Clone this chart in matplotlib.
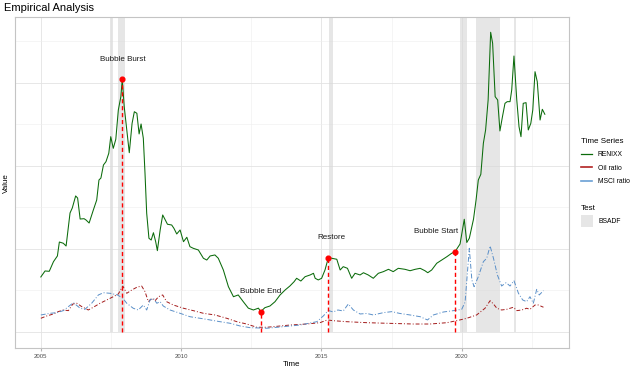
import matplotlib
matplotlib.use("Agg")
import matplotlib.pyplot as plt
from matplotlib.lines import Line2D
from matplotlib.patches import Patch

plt.rcParams['font.family'] = ['Liberation Sans', 'DejaVu Sans']

# RENIXX (time in decimal years)
renixx_t = [2005.01, 2005.16, 2005.31, 2005.46, 2005.60, 2005.67, 2005.81, 2005.91, 2006.05, 2006.13,
            2006.25, 2006.32, 2006.41, 2006.55, 2006.62, 2006.73, 2006.88, 2007.00, 2007.08, 2007.15,
            2007.24, 2007.33, 2007.43, 2007.50, 2007.59, 2007.68, 2007.77, 2007.86, 2007.91, 2007.98,
            2008.07, 2008.16, 2008.26, 2008.34, 2008.43, 2008.51, 2008.58, 2008.66, 2008.72, 2008.78,
            2008.86, 2008.94, 2009.02, 2009.10, 2009.16, 2009.26, 2009.35, 2009.43, 2009.52, 2009.67,
            2009.75, 2009.85, 2009.97, 2010.09, 2010.21, 2010.32, 2010.44, 2010.62, 2010.80, 2010.92,
            2011.04, 2011.21, 2011.33, 2011.51, 2011.69, 2011.87, 2012.04, 2012.22, 2012.40, 2012.58,
            2012.76, 2012.84, 2012.99, 2013.17, 2013.35, 2013.53, 2013.71, 2013.88, 2014.03, 2014.12,
            2014.27, 2014.42, 2014.60, 2014.72, 2014.78, 2014.89, 2015.01, 2015.13, 2015.25, 2015.37,
            2015.55, 2015.67, 2015.78, 2015.93, 2016.08, 2016.20, 2016.38, 2016.50, 2016.67, 2016.85,
            2017.03, 2017.21, 2017.39, 2017.56, 2017.74, 2017.98, 2018.16, 2018.34, 2018.52, 2018.69,
            2018.79, 2018.93, 2019.11, 2019.29, 2019.47, 2019.64, 2019.76, 2019.94, 2020.09, 2020.18,
            2020.27, 2020.42, 2020.51, 2020.59, 2020.68, 2020.77, 2020.85, 2020.94, 2021.03, 2021.10,
            2021.19, 2021.28, 2021.36, 2021.45, 2021.54, 2021.62, 2021.72, 2021.78, 2021.86, 2021.96,
            2022.04, 2022.11, 2022.19, 2022.29, 2022.37, 2022.46, 2022.53, 2022.61, 2022.69, 2022.79,
            2022.87, 2022.96]
renixx_v = [0.663, 0.735, 0.731, 0.847, 0.916, 1.084, 1.069, 1.036, 1.434, 1.494,
            1.639, 1.614, 1.361, 1.365, 1.349, 1.313, 1.470, 1.590, 1.831, 1.855,
            2.012, 2.052, 2.153, 2.353, 2.213, 2.322, 2.675, 2.835, 3.045, 2.714,
            2.434, 2.160, 2.514, 2.654, 2.635, 2.386, 2.506, 2.334, 1.912, 1.430,
            1.129, 1.108, 1.196, 1.088, 0.980, 1.229, 1.410, 1.358, 1.298, 1.289,
            1.249, 1.181, 1.229, 1.088, 1.141, 1.028, 1.008, 0.988, 0.888, 0.867,
            0.916, 0.928, 0.888, 0.747, 0.546, 0.425, 0.446, 0.365, 0.287, 0.265,
            0.287, 0.245, 0.293, 0.313, 0.365, 0.446, 0.506, 0.554, 0.606, 0.647,
            0.614, 0.666, 0.687, 0.707, 0.647, 0.627, 0.647, 0.747, 0.895, 0.888,
            0.876, 0.747, 0.787, 0.767, 0.647, 0.707, 0.687, 0.714, 0.687, 0.647,
            0.707, 0.727, 0.755, 0.727, 0.767, 0.755, 0.738, 0.755, 0.767, 0.738,
            0.714, 0.747, 0.828, 0.867, 0.907, 0.948, 0.967, 1.060, 1.358, 1.078,
            1.129, 1.361, 1.590, 1.831, 1.900, 2.273, 2.434, 2.795, 3.611, 3.478,
            2.835, 2.795, 2.422, 2.594, 2.755, 2.775, 2.775, 2.916, 3.325, 2.795,
            2.473, 2.353, 2.755, 2.763, 2.434, 2.514, 2.675, 3.136, 3.016, 2.554,
            2.683, 2.623]

oil_t = [2005.01, 2005.22, 2005.46, 2005.63, 2005.81, 2005.99, 2006.15, 2006.29, 2006.47, 2006.70,
         2006.88, 2007.12, 2007.36, 2007.59, 2007.77, 2007.93, 2008.07, 2008.25, 2008.43, 2008.60,
         2008.72, 2008.84, 2008.96, 2009.08, 2009.20, 2009.35, 2009.49, 2009.73, 2010.09, 2010.44,
         2010.80, 2011.21, 2011.63, 2011.99, 2012.34, 2012.70, 2013.06, 2013.29, 2013.89, 2014.48,
         2014.95, 2015.21, 2015.43, 2015.90, 2016.62, 2017.33, 2018.28, 2018.87, 2019.47, 2019.82,
         2020.18, 2020.53, 2020.83, 2021.01, 2021.13, 2021.25, 2021.42, 2021.60, 2021.84, 2021.96,
         2022.14, 2022.31, 2022.43, 2022.61, 2022.73, 2022.91]
oil_v = [0.165, 0.193, 0.217, 0.245, 0.265, 0.257, 0.337, 0.346, 0.305, 0.265,
         0.298, 0.346, 0.386, 0.425, 0.458, 0.554, 0.466, 0.506, 0.539, 0.554,
         0.486, 0.365, 0.406, 0.377, 0.425, 0.446, 0.365, 0.325, 0.286, 0.257,
         0.225, 0.205, 0.165, 0.124, 0.096, 0.057, 0.057, 0.064, 0.084, 0.096,
         0.112, 0.145, 0.136, 0.124, 0.112, 0.105, 0.096, 0.096, 0.112, 0.136,
         0.165, 0.205, 0.286, 0.377, 0.337, 0.286, 0.265, 0.273, 0.298, 0.257,
         0.265, 0.286, 0.273, 0.325, 0.325, 0.298]

msci_t = [2005.01, 2005.34, 2005.58, 2005.81, 2006.17, 2006.41, 2006.58, 2006.82, 2007.06, 2007.24,
          2007.48, 2007.74, 2007.93, 2008.07, 2008.30, 2008.48, 2008.66, 2008.78, 2008.90, 2009.02,
          2009.14, 2009.26, 2009.37, 2009.61, 2009.97, 2010.32, 2010.68, 2011.04, 2011.39, 2011.75,
          2012.11, 2012.46, 2013.06, 2013.65, 2014.24, 2014.84, 2015.07, 2015.25, 2015.42, 2015.59,
          2015.78, 2015.96, 2016.14, 2016.38, 2016.62, 2016.85, 2017.21, 2017.51, 2017.80, 2018.16,
          2018.52, 2018.78, 2018.99, 2019.35, 2019.70, 2020.00, 2020.12, 2020.20, 2020.27, 2020.36,
          2020.44, 2020.59, 2020.77, 2020.89, 2021.01, 2021.13, 2021.27, 2021.42, 2021.58, 2021.72,
          2021.86, 2022.02, 2022.17, 2022.31, 2022.43, 2022.55, 2022.67, 2022.76, 2022.91]
msci_v = [0.205, 0.225, 0.233, 0.257, 0.353, 0.286, 0.273, 0.346, 0.446, 0.473,
          0.466, 0.446, 0.406, 0.346, 0.286, 0.265, 0.325, 0.265, 0.386, 0.406,
          0.346, 0.365, 0.313, 0.265, 0.225, 0.184, 0.165, 0.145, 0.124, 0.105,
          0.072, 0.052, 0.045, 0.064, 0.084, 0.124, 0.193, 0.259, 0.241, 0.265,
          0.253, 0.337, 0.265, 0.217, 0.223, 0.205, 0.233, 0.245, 0.223, 0.205,
          0.184, 0.145, 0.205, 0.241, 0.257, 0.273, 0.361, 0.707, 1.008, 0.627,
          0.546, 0.666, 0.847, 0.888, 1.036, 0.888, 0.687, 0.554, 0.594, 0.554,
          0.618, 0.466, 0.386, 0.365, 0.425, 0.346, 0.514, 0.446, 0.498]

# BSADF bubble periods
bsadf_start = [2007.48, 2007.76, 2015.27, 2019.95, 2020.51, 2021.86]
bsadf_end = [2007.58, 2008.01, 2015.43, 2020.18, 2021.35, 2021.93]

# annotated events
event_labels = ["Bubble Burst", "Bubble End", "Restore", "Bubble Start"]
event_t = [2007.91, 2012.84, 2015.25, 2019.76]
event_v = [3.045, 0.245, 0.895, 0.967]
label_t = [2007.93, 2012.85, 2015.35, 2019.08]

fig = plt.figure(figsize=(6.36, 3.71), dpi=100)
ax = fig.add_axes([15/636, 23/371, 554/636, 331/371])

ylo, yhi = -0.193, 3.795
ax.set_xlim(2004.09, 2023.82)
ax.set_ylim(ylo, yhi)

ax.set_xticks([2005, 2010, 2015, 2020])
ax.set_xticks([2007.5, 2012.5, 2017.5, 2022.5], minor=True)
ax.set_yticks([0, 1, 2, 3])
ax.set_yticks([0.5, 1.5, 2.5, 3.5], minor=True)
ax.grid(which='major', color='#E3E3E3', lw=0.6)
ax.grid(which='minor', color='#EEEEEE', lw=0.4)
ax.set_axisbelow(True)
ax.set_yticklabels([])
ax.tick_params(axis='y', which='both', length=0)
ax.tick_params(axis='x', which='major', length=2, color='#B3B3B3', labelsize=4.3,
               labelcolor='#4D4D4D', pad=2)
ax.tick_params(axis='x', which='minor', length=0)
for s in ax.spines.values():
    s.set_color('#C4C4C4')
    s.set_linewidth(0.8)

frac0 = (0 - ylo) / (yhi - ylo)
for s, e in zip(bsadf_start, bsadf_end):
    ax.axvspan(s, e, ymin=frac0, ymax=1, color='#D9D9D9', alpha=0.65, lw=0, zorder=1)

ax.plot(renixx_t, renixx_v, color='#0B6B0B', lw=0.75, zorder=3)
ax.plot(oil_t, oil_v, color='#A31A1A', lw=0.7, ls=(0, (4, 2, 1, 2)), zorder=3)
ax.plot(msci_t, msci_v, color='#5A8FC8', lw=0.7, ls=(0, (5, 2, 1, 2)), zorder=3)

for lab, t, v, lt in zip(event_labels, event_t, event_v, label_t):
    ax.plot([t, t], [0, v], color='red', lw=1.0, ls=(0, (3, 2)), zorder=4)
    ax.plot(t, v, 'o', color='red', ms=3.4, zorder=5)
    ax.annotate(lab, (lt, v), xytext=(0, 14.4), textcoords='offset points',
                ha='center', va='center', fontsize=5.8, color='#1A1A1A')

ax.set_xlabel("Time", fontsize=5.8, labelpad=2)
fig.text(6/636, 1 - 183/371, "Value", rotation=90, ha='center', va='center', fontsize=5.8)
fig.text(4/636, 1 - 8/371, "Empirical Analysis", ha='left', va='center', fontsize=8)

h1 = [Line2D([], [], color='#0B6B0B', lw=0.9),
      Line2D([], [], color='#B22222', lw=1.2),
      Line2D([], [], color='#6A9FD4', lw=1.2)]
leg1 = fig.legend(h1, ["RENIXX", "Oil ratio", "MSCI ratio"], title="Time Series",
                  loc='upper left', bbox_to_anchor=(578/636, 1 - 135/371), frameon=False,
                  fontsize=4.9, title_fontsize=5.8, handlelength=1.7, handletextpad=0.8,
                  labelspacing=0.95, alignment='left', borderaxespad=0)
h2 = [Patch(facecolor='#E6E6E6', edgecolor='none')]
leg2 = fig.legend(h2, ["BSADF"], title="Test", loc='upper left',
                  bbox_to_anchor=(578/636, 1 - 202/371), frameon=False,
                  fontsize=4.9, title_fontsize=5.8, handlelength=1.75, handleheight=2.2,
                  handletextpad=0.8, alignment='left', borderaxespad=0)

fig.savefig("out.png", dpi=100)
